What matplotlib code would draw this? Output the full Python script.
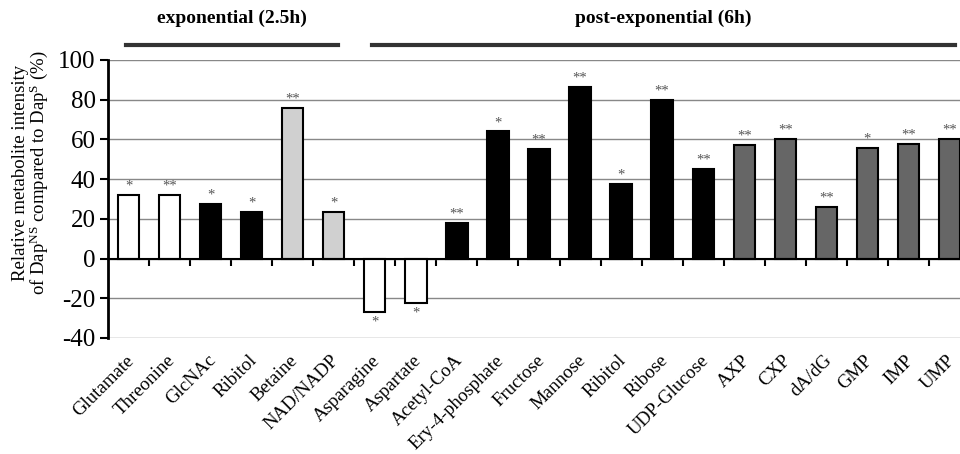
import numpy as np
import matplotlib
matplotlib.use('Agg')
import matplotlib.pyplot as plt
import matplotlib.transforms as mtransforms

plt.rcParams['font.family'] = 'Liberation Serif'
plt.rcParams['mathtext.fontset'] = 'custom'
plt.rcParams['mathtext.rm'] = 'Liberation Serif'
plt.rcParams['mathtext.it'] = 'Liberation Serif:italic'
plt.rcParams['axes.unicode_minus'] = False

metabolites = ['Glutamate', 'Threonine', 'GlcNAc', 'Ribitol', 'Betaine', 'NAD/NADP',
               'Asparagine', 'Aspartate', 'Acetyl-CoA', 'Ery-4-phosphate', 'Fructose',
               'Mannose', 'Ribitol', 'Ribose', 'UDP-Glucose', 'AXP', 'CXP', 'dA/dG',
               'GMP', 'IMP', 'UMP']
values = [32, 32, 27.5, 23.5, 76, 23.5,
          -27, -22.5, 18, 64, 55,
          86.5, 37.5, 80, 45, 57, 60, 26,
          55.5, 57.5, 60]
signif = ['*', '**', '*', '*', '**', '*',
          '*', '*', '**', '*', '**',
          '**', '*', '**', '**', '**', '**', '**',
          '*', '**', '**']
groups = ['white', 'white', 'black', 'black', 'lightgray', 'lightgray',
          'white', 'white', 'black', 'black', 'black',
          'black', 'black', 'black', 'black', 'dimgray', 'dimgray', 'dimgray',
          'dimgray', 'dimgray', 'dimgray']
colour_map = {'white': 'white', 'black': 'black', 'lightgray': '#d0d0d0', 'dimgray': '#666666'}

phases = ['exponential (2.5h)', 'post-exponential (6h)']
phase_span = [(-0.06, 5.1), (5.93, 20.13)]

fig = plt.figure(figsize=(9.6, 4.54), dpi=100)
ax = fig.add_axes([108/960, 1-338/454, (970-108)/960, (338-60)/454])

x = np.arange(len(metabolites))
ax.bar(x, values, width=0.52, color=[colour_map[g] for g in groups],
       edgecolor='black', linewidth=1.5, zorder=3)

for xi, v, s in zip(x, values, signif):
    if v >= 0:
        ax.text(xi, v + 1.2, s, ha='center', va='bottom', fontsize=10.5, color='#555555')
    else:
        ax.text(xi, v - 1.5, s, ha='center', va='top', fontsize=10.5, color='#555555')

ax.set_xlim(-0.5, len(metabolites) - 0.5)
ax.set_ylim(-40, 100)
ax.set_yticks(np.arange(-40, 101, 20))
ax.yaxis.grid(True, color='#888888', linewidth=1)
ax.set_axisbelow(True)
ax.tick_params(axis='y', labelsize=18, direction='out', length=6, width=1.5, pad=3)

for side in ['top', 'right']:
    ax.spines[side].set_visible(False)
ax.spines['left'].set_linewidth(2)
ax.spines['bottom'].set_position(('data', 0))
ax.spines['bottom'].set_linewidth(1.5)
ax.spines['bottom'].set_zorder(4)
ax.set_xticks(np.arange(0.5, len(metabolites) - 0.5, 1))
ax.tick_params(axis='x', labelbottom=False, direction='out', length=5, width=1.5)

trans = mtransforms.blended_transform_factory(ax.transData, ax.transAxes)
for xi, name in zip(x, metabolites):
    ax.text(xi - 0.08, -0.05, name, transform=trans, rotation=45, ha='right', va='top',
            rotation_mode='anchor', fontsize=13.6)

ax.set_ylabel('Relative metabolite intensity\nof Dap$^{\\mathrm{NS}}$ compared to Dap$^{\\mathrm{S}}$ (%)',
              fontsize=13.5, linespacing=0.95)
ax.yaxis.set_label_coords(-0.067, 0.594)

for name, (x0, x1) in zip(phases, phase_span):
    ax.plot([x0, x1], [107.5, 107.5], color='#333333', linewidth=3, clip_on=False)
    ax.text((x0 + x1) / 2, 121, name, ha='center', va='center', fontsize=14, fontweight='bold')

fig.savefig('out.png', dpi=100)
